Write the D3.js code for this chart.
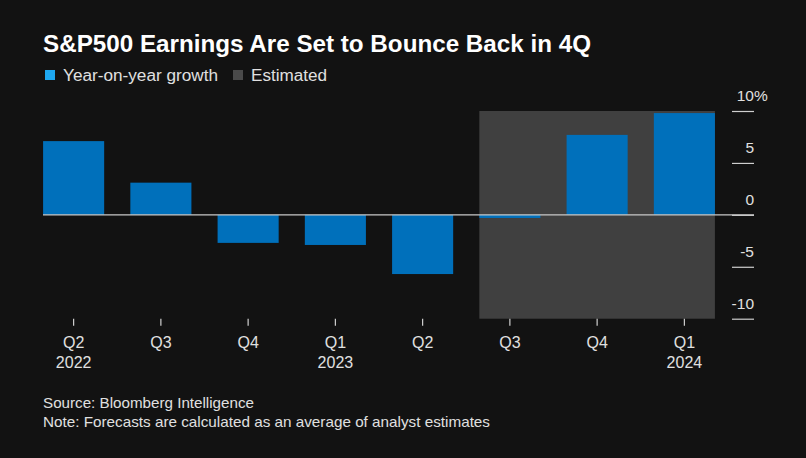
<!DOCTYPE html>
<html><head><meta charset="utf-8">
<script src="https://cdn.jsdelivr.net/npm/d3@7"></script>
<style>
html,body{margin:0;padding:0;background:#121212;}
svg{display:block;font-family:"Liberation Sans",Arial,Helvetica,sans-serif;}
</style></head>
<body>
<svg id="chart" width="806" height="458"></svg>
<script>
const quarters = ["Q2","Q3","Q4","Q1","Q2","Q3","Q4","Q1"];
const years = ["2022","","","2023","","","","2024"];
const growth = [7.1, 3.1, -2.7, -2.9, -5.7, -0.3, 7.7, 9.8];
const estimated = [false,false,false,false,false,true,true,true];
const yTicks = [10, 5, 0, -5, -10];
const keys = quarters.map((q,i)=>q+"-"+i);

const svg = d3.select("#chart");
svg.append("rect").attr("width",806).attr("height",458).attr("fill","#121212");

const x = d3.scaleBand().domain(keys).range([30, 728]).paddingInner(0.3).paddingOuter(0.15);
const y = d3.scaleLinear().domain([-10,10]).range([318.7,111]);

// Estimated shading
const estIdx = estimated.map((e,i)=>e?i:-1).filter(i=>i>=0);
const x0 = x(keys[estIdx[0]]);
const x1 = x(keys[estIdx[estIdx.length-1]]) + x.bandwidth();
svg.append("rect").attr("x", x0).attr("y", y(10)).attr("width", x1-x0).attr("height", y(-10)-y(10)).attr("fill","#404040");

// bars
svg.append("g").selectAll("rect").data(growth).join("rect")
  .attr("x",(d,i)=>x(keys[i]))
  .attr("width",x.bandwidth())
  .attr("y",d=>y(Math.max(0,d)))
  .attr("height",d=>Math.abs(y(d)-y(0)))
  .attr("fill","#0070bb");

// y axis
const yAxis = d3.axisRight(y).tickValues(yTicks).tickSize(22).tickFormat("");
const yg = svg.append("g").attr("transform","translate(732,0)").call(yAxis);
yg.select(".domain").remove();
yg.selectAll(".tick line").attr("stroke","#cfcfcf").attr("stroke-width",1.2);
yTicks.forEach(t=>{
  svg.append("text").attr("x",754).attr("y",y(t)-10).attr("text-anchor","end")
    .attr("fill","#e0e0e0").attr("font-size",15.5).text(t);
  if(t===10) svg.append("text").attr("x",754).attr("y",y(t)-10).attr("fill","#e0e0e0").attr("font-size",15.5).text("%");
});

// zero line
svg.append("line").attr("x1",43).attr("x2",754).attr("y1",y(0)).attr("y2",y(0)).attr("stroke","#c8c8c8").attr("stroke-width",1.3);

// x axis
const xAxis = d3.axisBottom(x).tickSize(7).tickFormat("");
const xg = svg.append("g").attr("transform",`translate(0,${y(-10)})`).call(xAxis);
xg.select(".domain").remove();
xg.selectAll(".tick line").attr("stroke","#d0d0d0").attr("stroke-width",1.2);
const lab = svg.append("g");
keys.forEach((k,i)=>{
  const cx = x(k)+x.bandwidth()/2;
  lab.append("text").attr("x",cx).attr("y",347.5).attr("text-anchor","middle").attr("fill","#e0e0e0").attr("font-size",16).text(quarters[i]);
  if(years[i]) lab.append("text").attr("x",cx).attr("y",367.5).attr("text-anchor","middle").attr("fill","#e0e0e0").attr("font-size",16).text(years[i]);
});

// title
svg.append("text").attr("x",43).attr("y",52).attr("fill","#ffffff").attr("font-size",23.5).attr("font-weight","bold")
  .attr("textLength",548).attr("lengthAdjust","spacingAndGlyphs").text("S&P500 Earnings Are Set to Bounce Back in 4Q");

// legend
svg.append("rect").attr("x",45).attr("y",70).attr("width",10).attr("height",10).attr("fill","#1ea7f0");
svg.append("text").attr("x",63).attr("y",81).attr("fill","#e0e0e0").attr("font-size",16)
  .attr("textLength",155).attr("lengthAdjust","spacingAndGlyphs").text("Year-on-year growth");
svg.append("rect").attr("x",233).attr("y",70).attr("width",10).attr("height",10).attr("fill","#4a4a4a");
svg.append("text").attr("x",251).attr("y",81).attr("fill","#e0e0e0").attr("font-size",16)
  .attr("textLength",76).attr("lengthAdjust","spacingAndGlyphs").text("Estimated");

// footer
svg.append("text").attr("x",43).attr("y",408).attr("fill","#e0e0e0").attr("font-size",15)
  .attr("textLength",211).attr("lengthAdjust","spacingAndGlyphs").text("Source: Bloomberg Intelligence");
svg.append("text").attr("x",43).attr("y",427).attr("fill","#e0e0e0").attr("font-size",15)
  .attr("textLength",447).attr("lengthAdjust","spacingAndGlyphs").text("Note: Forecasts are calculated as an average of analyst estimates");
</script>
</body></html>
